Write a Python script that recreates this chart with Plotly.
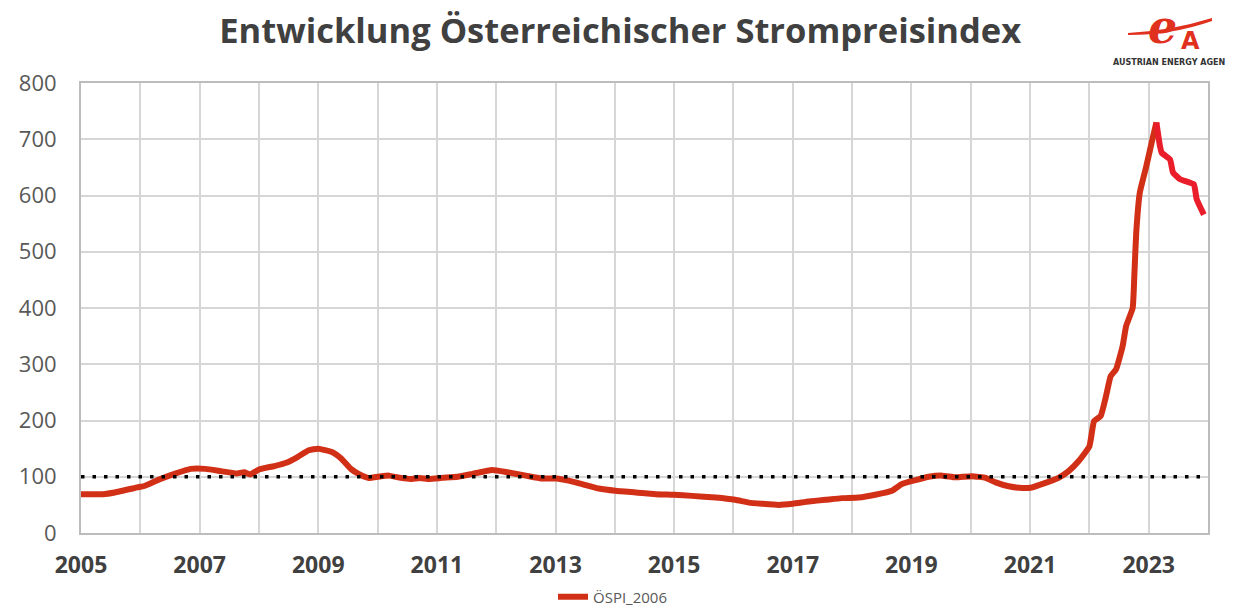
import plotly.graph_objects as go

# --- data (decimal year, index value) ---
years_main = [2005.00, 2005.37, 2005.57, 2005.95, 2006.08, 2006.34, 2006.60, 2006.85,
              2007.10, 2007.36, 2007.62, 2007.75, 2007.85, 2008.00, 2008.26, 2008.46,
              2008.65, 2008.84, 2009.00, 2009.23, 2009.39, 2009.55, 2009.68, 2009.84,
              2010.06, 2010.19, 2010.39, 2010.55, 2010.71, 2010.87, 2011.09, 2011.35,
              2011.60, 2011.93, 2012.19, 2012.50, 2012.76, 2013.02, 2013.22, 2013.45,
              2013.73, 2014.01, 2014.35, 2014.69, 2015.00, 2015.30, 2015.70, 2016.03,
              2016.26, 2016.48, 2016.76, 2017.00, 2017.27, 2017.55, 2017.83, 2018.11,
              2018.39, 2018.67, 2018.84, 2019.07, 2019.29, 2019.52, 2019.74, 2020.02,
              2020.25, 2020.42, 2020.64, 2020.87, 2021.03, 2021.26, 2021.48, 2021.65,
              2021.82, 2022.00, 2022.08, 2022.19, 2022.28, 2022.36, 2022.45, 2022.56,
              2022.62, 2022.73, 2022.76, 2022.79, 2022.85, 2022.96, 2023.05, 2023.13]
values_main = [69, 69, 72, 81, 84, 96, 106, 114,
               114, 110, 106, 108, 104, 113, 119, 125,
               135, 147, 150, 144, 132, 114, 105, 98,
               101, 102, 98, 96, 98, 96, 98, 100,
               105, 112, 108, 102, 97, 97, 93, 87,
               79, 75, 72, 69, 68, 66, 63, 59,
               54, 52, 50, 52, 56, 59, 62, 63,
               68, 75, 87, 94, 100, 102, 99, 101,
               98, 90, 83, 80, 81, 89, 98, 110,
               128, 154, 199, 208, 243, 279, 291, 332,
               368, 400, 463, 534, 605, 652, 694, 730]

years_tail = [2023.13, 2023.19, 2023.22, 2023.36, 2023.41, 2023.53, 2023.76, 2023.81, 2023.93]
values_tail = [730, 688, 676, 664, 641, 629, 620, 593, 566]

baseline_years = [2005, 2024]
baseline_values = [100, 100]

x_tick_years = [2005, 2007, 2009, 2011, 2013, 2015, 2017, 2019, 2021, 2023]
x_tick_labels = [str(y) for y in x_tick_years]

series_name = "ÖSPI_2006"
title_text = "Entwicklung Österreichischer Strompreisindex"

MAIN_RED = "#D22F17"
TAIL_RED = "#EA1D2B"
LOGO_RED = "#E0301E"

W, H = 1233, 609
L, R, T, B = 81, 25, 83, 76
PW, PH = W - L - R, H - T - B


def px(x):
    return (x - L) / PW


def py(y):
    return (H - B - y) / PH


fig = go.Figure()
fig.add_trace(go.Scatter(
    x=years_main, y=values_main, mode="lines", name=series_name,
    line=dict(color=MAIN_RED, width=6, shape="spline", smoothing=0.4),
    showlegend=True))
fig.add_trace(go.Scatter(
    x=years_tail, y=values_tail, mode="lines", name=series_name,
    line=dict(color=TAIL_RED, width=6, shape="spline", smoothing=0.4),
    showlegend=False))
fig.add_trace(go.Scatter(
    x=baseline_years, y=baseline_values, mode="lines", name="100",
    line=dict(color="black", width=3.5, dash="3.5px,8px"),
    showlegend=False, hoverinfo="skip"))

fig.update_layout(
    width=W, height=H,
    margin=dict(l=L, r=R, t=T, b=B, autoexpand=False),
    paper_bgcolor="white", plot_bgcolor="white",
    font=dict(family="Open Sans, DejaVu Sans, sans-serif", color="#595959"),
    title=dict(text="<b>" + title_text + "</b>", x=0.503, xanchor="center",
               xref="container", y=1 - 31 / H, yanchor="middle",
               font=dict(size=34.5, color="#404040", family="Open Sans, sans-serif")),
    showlegend=True,
    legend=dict(orientation="h", x=px(553), xanchor="left", y=py(597), yanchor="middle",
                font=dict(size=15, color="#595959"), bgcolor="rgba(0,0,0,0)",
                borderwidth=0),
    xaxis=dict(range=[2005, 2024], tickmode="array", tickvals=x_tick_years,
               ticktext=["<b>" + t + "</b>" for t in x_tick_labels],
               tickfont=dict(size=23, color="#404040"),
               showgrid=True, gridcolor="#d6d6d6", gridwidth=2,
               minor=dict(dtick=1, tick0=2005, showgrid=True, gridcolor="#d6d6d6", gridwidth=2),
               showline=True, linecolor="#bcbcbc", linewidth=2, mirror=True,
               ticks="", ticklabelstandoff=10, zeroline=False, automargin=False),
    yaxis=dict(range=[0, 800], dtick=100, tick0=0,
               tickfont=dict(size=22, color="#595959"),
               showgrid=True, gridcolor="#d6d6d6", gridwidth=2,
               showline=True, linecolor="#bcbcbc", linewidth=2, mirror=True,
               ticks="", ticklabelstandoff=18, zeroline=False, automargin=False),
)

# logo (Austrian Energy Agency), approximated with a swoosh and text
fig.add_shape(type="path", xref="paper", yref="paper",
              path="M {},{} Q {},{} {},{} L {},{} Q {},{} {},{} Z".format(
                  px(1128), py(33), px(1170), py(31), px(1212), py(18),
                  px(1212), py(21), px(1172), py(35), px(1128), py(35)),
              fillcolor=LOGO_RED, line=dict(width=0), layer="above")
fig.add_annotation(text="<i><b>e</b></i>", xref="paper", yref="paper",
                   x=px(1162), y=py(27), xanchor="center", yanchor="middle",
                   showarrow=False, font=dict(size=46, color=LOGO_RED, family="DejaVu Serif"))
fig.add_annotation(text="<b>A</b>", xref="paper", yref="paper",
                   x=px(1190), y=py(41), xanchor="center", yanchor="middle",
                   showarrow=False, font=dict(size=24, color=LOGO_RED, family="DejaVu Sans"))
fig.add_annotation(text="<b>AUSTRIAN ENERGY AGEN</b>", xref="paper", yref="paper",
                   x=px(1111), y=py(62), xanchor="left", yanchor="middle",
                   showarrow=False, font=dict(size=8, color="#333333", family="DejaVu Sans"))

fig.write_html("out.html", config={"displayModeBar": False},
               post_script="document.body.style.margin='0';document.body.style.padding='0';")
